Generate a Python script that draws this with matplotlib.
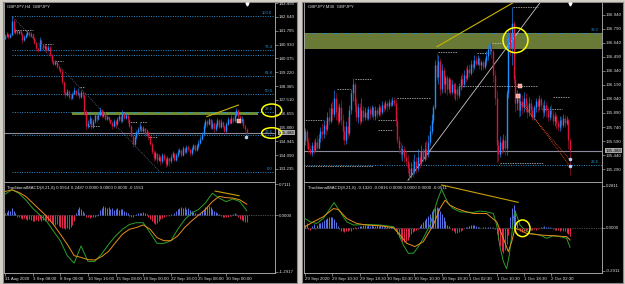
import numpy as np
import matplotlib.pyplot as plt
from matplotlib.patches import Ellipse, Rectangle

plt.rcParams['font.family'] = ['Liberation Sans', 'DejaVu Sans']

W, H = 625, 284

# ---------------- left window: GBPJPY H4 ----------------
h4_open0 = 141.30
h4_close = [
    141.45, 141.60, 141.38, 141.55, 142.40, 141.70,
    141.80, 141.65, 141.75, 141.60, 141.20, 141.40, 141.55, 141.70, 141.50, 141.60,
    141.35, 141.05, 140.70, 140.60, 141.20, 140.95,
    140.70, 140.85, 140.60, 140.80,
    140.30, 139.90, 139.75,
    139.85, 139.55, 139.40, 139.30,
    138.60, 138.00,
    137.80, 138.05, 137.70, 137.60, 137.90, 138.10, 137.85,
    137.95, 137.70, 138.00, 137.80,
    136.80, 135.90,
    136.10, 136.40, 135.85, 136.20, 136.55, 136.30, 136.60,
    136.90, 136.50, 136.70, 136.35, 136.45, 136.25,
    136.10, 135.90, 136.20, 136.00, 136.30,
    136.50, 136.20, 136.65, 136.40, 136.55, 136.30,
    135.90, 135.30, 134.80, 135.20,
    135.50, 135.70, 135.90, 135.60, 135.75, 135.40, 135.55, 135.30,
    134.80, 134.30, 133.90, 134.20, 133.80, 134.00,
    133.70, 134.10, 133.85, 133.55, 133.90, 133.70, 134.00, 134.20, 133.80, 134.10, 134.30,
    134.40, 134.10, 134.55, 134.30, 134.60, 134.45, 134.20, 134.50, 134.70, 134.40, 134.65, 134.85,
    135.10, 135.40, 135.90, 136.20, 136.00,
    136.30, 135.80, 136.10, 135.70, 135.95, 136.25, 135.85, 136.15, 135.90, 135.60, 136.00, 136.30, 136.10, 136.40, 136.20,
    136.60, 136.90, 136.50,
    136.20, 136.35, 135.90, 135.70, 135.49,
]
h4_high = [
    141.60, 141.72, 141.65, 141.62, 142.69, 142.50,
    141.95, 141.88, 141.85, 141.80, 141.65, 141.50, 141.62, 141.82, 141.75, 141.70,
    141.65, 141.40, 141.10, 140.80, 141.40, 141.25,
    141.00, 140.95, 140.90, 140.90,
    140.85, 140.35, 140.00,
    139.97, 139.90, 139.62, 139.50,
    139.35, 138.70,
    138.15, 138.20, 138.10, 137.85, 138.00, 138.30, 138.15,
    138.25, 138.00, 138.10, 138.05,
    137.85, 136.90,
    136.25, 136.55, 136.45, 136.35, 136.70, 136.60, 136.75,
    137.05, 136.95, 136.85, 136.75, 136.60, 136.50,
    136.35, 136.15, 136.30, 136.25, 136.45,
    136.65, 136.55, 136.90, 136.70, 136.70, 136.60,
    136.35, 135.95, 135.40, 135.35,
    135.65, 135.85, 136.05, 135.95, 135.90, 135.80, 135.70, 135.60,
    135.35, 134.90, 134.40, 134.35, 134.25, 134.15,
    134.10, 134.25, 134.20, 133.95, 134.05, 134.00, 134.15, 134.35, 134.25, 134.25, 134.45,
    134.55, 134.45, 134.65, 134.60, 134.72, 134.70, 134.50, 134.60, 134.80, 134.75, 134.75, 135.00,
    135.25, 135.55, 136.05, 136.35, 136.30,
    136.39, 136.35, 136.25, 136.15, 136.10, 136.40, 136.30, 136.30, 136.20, 135.95, 136.15, 136.45, 136.40, 136.55, 136.50,
    136.75, 137.00, 136.95,
    136.60, 136.50, 136.40, 136.00, 135.80,
]
h4_low = [
    141.25, 141.40, 141.30, 141.32, 141.50, 141.62,
    141.60, 141.55, 141.58, 141.50, 141.02, 141.12, 141.35, 141.48, 141.42, 141.40,
    141.25, 140.95, 140.55, 140.47, 140.55, 140.85,
    140.60, 140.62, 140.50, 140.52,
    140.20, 139.80, 139.65,
    139.68, 139.45, 139.30, 139.20,
    138.50, 137.90,
    137.65, 137.72, 137.55, 137.50, 137.55, 137.85, 137.75,
    137.80, 137.55, 137.62, 137.60,
    136.60, 135.65,
    135.75, 136.00, 135.70, 135.75, 136.10, 136.15, 136.25,
    136.50, 136.40, 136.45, 136.25, 136.25, 136.14,
    136.00, 135.70, 135.85, 135.80, 135.95,
    136.20, 136.10, 136.15, 136.30, 136.35, 136.15,
    135.80, 135.20, 134.60, 134.70,
    135.10, 135.40, 135.60, 135.50, 135.50, 135.25, 135.30, 135.00,
    134.70, 134.15, 133.75, 133.80, 133.60, 133.70,
    133.50, 133.60, 133.70, 133.35, 133.45, 133.40, 133.60, 133.90, 133.70, 133.70, 134.00,
    134.20, 134.00, 134.05, 134.15, 134.25, 134.35, 134.05, 134.10, 134.40, 134.30, 134.35, 134.55,
    134.75, 135.00, 135.30, 135.80, 135.85,
    135.95, 135.70, 135.70, 135.55, 135.60, 135.85, 135.75, 135.80, 135.75, 135.40, 135.50, 135.95, 136.00, 136.05, 136.10,
    136.15, 136.50, 136.40,
    136.05, 136.10, 135.80, 135.55, 135.30,
]
h4_price_ticks = [143.495, 142.640, 141.785, 140.930, 140.075, 139.220, 138.365,
                  137.510, 136.655, 135.800, 134.945, 134.090, 133.235]
h4_time_pos = [0, 16, 32, 48, 64, 80, 96, 112, 128]
h4_time_labels = ['31 Aug 2020', '3 Sep 08:00', '8 Sep 00:00', '10 Sep 16:00', '15 Sep 08:00',
                  '18 Sep 00:00', '22 Sep 16:00', '25 Sep 08:00', '30 Sep 00:00']

# fibonacci levels (shared object) and the supply zone
fib_prices = [142.69, 140.59, 140.28, 138.98, 137.87, 136.75, 135.33, 133.05]
fib_labels = ['100.0', '76.4', '', '61.8', '50.0', '38.2', '23.6', '0.0']
h4_fib_start = 4
zone_lo, zone_hi = 136.58, 136.75
h4_zone_start, h4_zone_end = 38.8, 146.5

# short pivot levels on the H4 chart
h4_lvl_start = [5.8, 23.1, 28.9, 43.4, 48.0, 71.1, 78.0, 82.7]
h4_lvl_end = [16.2, 27.7, 33.5, 46.2, 54.9, 76.3, 82.1, 87.9]
h4_lvl_price = [141.83, 140.96, 139.91, 138.30, 135.89, 136.14, 136.14, 135.21]

h4_hist = [
    0.05, 0.08, 0.12, 0.10, 0.16, 0.09, 0.04,
    -0.03, -0.05, -0.06, -0.08, -0.07, -0.09, -0.10, -0.08, -0.11,
    -0.12, -0.13, -0.10, -0.12, -0.09, -0.13, -0.11, -0.13, -0.10, -0.12,
    -0.14, -0.17, -0.20, -0.22, -0.19, -0.24, -0.26, -0.28, -0.30, -0.32, -0.30, -0.32, -0.27, -0.22, -0.12,
    0.06, 0.14, 0.19, 0.15, 0.10, 0.04,
    -0.03, -0.05, -0.06, -0.04, -0.05, -0.03, -0.02, 0.02,
    0.12, 0.17, 0.20, 0.18, 0.16, 0.19, 0.15, 0.17, 0.13, 0.15, 0.16, 0.12, 0.14, 0.15, 0.10, 0.08, 0.05,
    -0.02, -0.04, -0.03, 0.01,
    0.03, 0.05, 0.06, 0.04, 0.07, 0.05, 0.02, -0.03,
    -0.08, -0.14, -0.18, -0.21, -0.17, -0.13, -0.09, -0.06, -0.03,
    -0.01, 0.01, -0.01, 0.02, 0.01,
    0.06, 0.10, 0.14, 0.17, 0.19, 0.16, 0.18, 0.15, 0.17, 0.13, 0.10, 0.08, 0.05, 0.03, 0.02,
    0.06, 0.10, 0.14, 0.18, 0.21, 0.22, 0.19, 0.15, 0.10, 0.07, 0.04, 0.02,
    -0.02, -0.04, -0.03, -0.05, -0.04, -0.02, -0.01,
    0.03, 0.04, 0.02,
    -0.05, -0.08, -0.10, -0.12, -0.15, -0.16,
]
h4_macd_idx = list(range(0, 141, 4))
h4_macd_main = [0.48, 0.58, 0.50, 0.35, 0.16, 0.01, -0.13, -0.36, -0.58, -0.92,
                -1.09, -0.70, -1.05, -1.05, -0.88, -0.66, -0.47, -0.32, -0.21, -0.17,
                -0.17, -0.40, -0.64, -0.64, -0.58, -0.32, -0.10, 0.05, 0.13, 0.28,
                0.50, 0.39, 0.31, 0.37, 0.31, 0.10]
h4_macd_signal = [0.54, 0.58, 0.52, 0.43, 0.28, 0.13, -0.02, -0.21, -0.43, -0.66,
                  -0.92, -0.96, -1.01, -1.02, -0.94, -0.82, -0.62, -0.43, -0.32, -0.28,
                  -0.22, -0.32, -0.51, -0.58, -0.58, -0.47, -0.28, -0.13, 0.00, 0.13,
                  0.31, 0.43, 0.40, 0.39, 0.35, 0.25]
h4_macd_ticks = [0.7111, 0.0, -1.2917]

# ---------------- right window: GBPJPY M30 ----------------
m30_open0 = 135.60
m30_close = [
    135.70, 135.58, 135.50, 135.46, 135.55, 135.49, 135.58, 135.52, 135.62, 135.70,
    135.66, 135.76, 135.72, 135.85, 135.80, 135.94, 135.88, 136.05, 135.90, 135.80,
    135.95, 135.82, 135.70, 135.60, 135.75, 135.68, 135.92, 136.10, 136.20, 135.98,
    135.85, 135.95, 135.80, 135.92, 135.85, 135.90, 135.84, 135.93, 135.88, 135.95,
    135.86, 135.92, 135.88, 135.95, 135.90, 135.98, 135.94, 136.00, 135.96, 136.01,
    135.98, 136.03, 136.00, 135.80, 135.60, 135.52, 135.45, 135.50, 135.42, 135.38,
    135.30, 135.22, 135.30, 135.26, 135.38, 135.30, 135.42, 135.35, 135.48, 135.40,
    135.50, 135.45, 135.58, 135.70, 135.82, 135.95, 136.40, 136.28, 136.45, 136.15,
    136.35, 136.20, 136.28, 136.15, 136.25, 136.12, 136.20, 136.10, 136.15, 136.08,
    136.18, 136.25, 136.20, 136.30, 136.26, 136.36, 136.32, 136.42, 136.38, 136.46,
    136.42, 136.48, 136.40, 136.44, 136.38, 136.45,
    136.50, 136.58, 136.62, 136.55, 136.30, 136.05, 135.55, 135.45, 135.58, 135.50,
    135.60, 135.52, 136.10, 136.70, 136.60, 136.85, 136.25, 136.00, 136.08, 135.92,
    136.02, 135.95, 136.05, 135.98, 135.90, 136.00, 135.92, 135.85, 135.95, 136.02,
    135.96, 136.04, 135.98, 135.90, 135.98, 135.92, 135.85, 135.92, 135.88, 135.80,
    135.86, 135.78, 135.74, 135.82, 135.76, 135.84, 135.78, 135.82, 135.60, 135.49,
]
m30_high = [
    135.73, 135.72, 135.62, 135.55, 135.58, 135.60, 135.62, 135.65, 135.66, 135.74,
    135.78, 135.81, 135.80, 135.90, 135.95, 136.00, 136.02, 136.14, 136.10, 135.98,
    136.00, 136.03, 135.88, 135.75, 135.80, 135.85, 135.98, 136.15, 136.26, 136.22,
    136.05, 136.00, 136.00, 136.05, 135.96, 135.95, 135.94, 135.97, 135.96, 135.98,
    135.97, 135.96, 135.95, 135.99, 135.98, 136.02, 136.01, 136.03, 136.02, 136.04,
    136.04, 136.06, 136.06, 136.04, 135.84, 135.64, 135.58, 135.55, 135.54, 135.48,
    135.44, 135.35, 135.36, 135.40, 135.45, 135.42, 135.50, 135.48, 135.55, 135.52,
    135.58, 135.60, 135.65, 135.76, 135.88, 135.98, 136.46, 136.53, 136.51, 136.48,
    136.42, 136.38, 136.30, 136.30, 136.28, 136.27, 136.24, 136.22, 136.21, 136.18,
    136.21, 136.30, 136.32, 136.35, 136.38, 136.40, 136.42, 136.46, 136.46, 136.51,
    136.50, 136.51, 136.49, 136.46, 136.46, 136.48,
    136.55, 136.62, 136.64, 136.64, 136.58, 136.35, 136.14, 135.60, 135.64, 135.62,
    135.66, 135.65, 136.14, 136.78, 136.80, 137.02, 136.88, 136.30, 136.14, 136.12,
    136.10, 136.08, 136.12, 136.10, 136.02, 136.06, 136.04, 135.96, 135.98, 136.05,
    136.05, 136.08, 136.06, 136.01, 136.03, 136.01, 135.95, 135.96, 135.99, 135.92,
    135.90, 135.88, 135.82, 135.86, 135.86, 135.88, 135.87, 135.86, 135.84, 135.62,
]
m30_low = [
    135.55, 135.52, 135.46, 135.44, 135.43, 135.45, 135.47, 135.49, 135.50, 135.58,
    135.60, 135.62, 135.65, 135.70, 135.76, 135.78, 135.82, 135.85, 135.82, 135.76,
    135.78, 135.76, 135.60, 135.55, 135.56, 135.62, 135.65, 135.88, 136.02, 135.90,
    135.80, 135.78, 135.76, 135.78, 135.80, 135.82, 135.81, 135.82, 135.83, 135.85,
    135.81, 135.82, 135.84, 135.86, 135.86, 135.88, 135.90, 135.92, 135.91, 135.93,
    135.95, 135.96, 135.97, 135.75, 135.57, 135.46, 135.40, 135.38, 135.36, 135.33,
    135.25, 135.17, 135.19, 135.20, 135.24, 135.25, 135.27, 135.30, 135.33, 135.36,
    135.38, 135.40, 135.42, 135.55, 135.66, 135.78, 135.93, 136.24, 136.20, 136.08,
    136.10, 136.12, 136.10, 136.08, 136.10, 136.08, 136.09, 136.05, 136.03, 136.03,
    136.05, 136.14, 136.16, 136.17, 136.22, 136.24, 136.28, 136.30, 136.33, 136.36,
    136.40, 136.40, 136.36, 136.35, 136.35, 136.36,
    136.40, 136.46, 136.52, 136.48, 136.22, 135.98, 135.37, 135.37, 135.42, 135.45,
    135.47, 135.44, 135.44, 136.05, 136.50, 136.40, 136.20, 135.90, 135.92, 135.85,
    135.86, 135.88, 135.90, 135.90, 135.84, 135.86, 135.85, 135.81, 135.82, 135.90,
    135.90, 135.92, 135.93, 135.84, 135.86, 135.85, 135.80, 135.82, 135.84, 135.76,
    135.75, 135.72, 135.70, 135.70, 135.72, 135.74, 135.74, 135.76, 135.50, 135.23,
]
m30_price_ticks = [136.940, 136.790, 136.640, 136.490, 136.340, 136.190,
                   136.040, 135.890, 135.740, 135.590, 135.440, 135.290]
m30_time_pos = [0, 16, 32, 48, 64, 80, 96, 112, 128, 144]
m30_time_labels = ['29 Sep 2020', '29 Sep 10:30', '29 Sep 18:30', '30 Sep 02:30', '30 Sep 10:30',
                   '30 Sep 18:30', '1 Oct 02:30', '1 Oct 10:30', '1 Oct 18:30', '2 Oct 02:30']

m30_lvl_start = [18.7, 29.2, 53.8, 77.8, 90.6, 100.6, 109.4, 121.6, 145.0, 138.6, -1.0, 42.7, 42.7, -1.0, 114.0]
m30_lvl_end = [26.3, 39.2, 73.1, 88.9, 136.3, 106.4, 115.8, 136.3, 155.0, 150.3, 10.5, 53.8, 51.5, 39.8, 139.2]
m30_lvl_price = [136.147, 136.254, 136.050, 136.543, 136.179, 136.532, 136.639, 137.025,
                 136.061, 135.933, 135.815, 135.815, 135.708, 135.322, 135.354]

m30_hist = [
    0.02, 0.03, -0.01, -0.015, 0.01, 0.025, -0.01, 0.02, 0.03,
    0.03, 0.04, 0.05, 0.06, 0.065, 0.07, 0.074, 0.07, 0.06, 0.04,
    0.01, -0.01, -0.02, -0.025, -0.027, -0.02, -0.025, -0.015, -0.02, -0.01, 0.005, -0.01, 0.008, 0.01, 0.012,
    0.015, 0.018, 0.012, 0.016, 0.01, 0.018, 0.014, 0.012, 0.016, 0.01, 0.015, 0.012, 0.008, 0.01, 0.012,
    0.006, 0.008, 0.004, 0.002,
    -0.02, -0.04, -0.06, -0.075, -0.09, -0.094, -0.09, -0.08, -0.06, -0.045,
    -0.03, -0.02, -0.015, -0.008,
    0.01, 0.025, 0.04, 0.05, 0.065, 0.08, 0.095, 0.11, 0.125, 0.135, 0.14, 0.13, 0.115, 0.09, 0.07, 0.045,
    0.02, 0.01, -0.005,
    -0.015, -0.025, -0.035, -0.038, -0.032, -0.025, -0.015,
    -0.005, 0.005, 0.008, 0.012, 0.015, 0.018, 0.016, 0.01, 0.006, 0.004, -0.004, 0.006, 0.004, -0.005,
    0.003, 0.005, -0.004, 0.002, -0.01,
    -0.04, -0.08, -0.12, -0.16, -0.17, -0.15, -0.11, -0.05,
    0.07, 0.13, 0.156, 0.12,
    0.03, -0.01, -0.02, -0.027, -0.02, -0.025, -0.015, -0.02, -0.012, -0.018, -0.01, -0.015, -0.008, -0.005,
    0.004, 0.006, 0.01, 0.008, 0.006, 0.004, -0.005, -0.01, -0.015, -0.012, -0.018, -0.02, -0.015, -0.02, -0.025,
    -0.035, -0.045, -0.054,
]
m30_main_idx = [0, 2.9, 6.8, 10.7, 14.6, 17, 20.5, 24.4, 28.3, 36, 43.9, 51.7, 54.6, 57.5, 60.4, 63.4,
                66.3, 69.2, 73.1, 76, 77.4, 79.9, 81.9, 83.8, 86.7, 90.6, 98.4, 102.3, 106.2, 110.1,
                112.1, 114, 116, 117.9, 119.5, 120.9, 121.8, 122.8, 123.8, 125.7, 128.7, 131.6,
                137.4, 141.3, 145.2, 149.1, 153, 155]
m30_main = [0.062, 0.040, 0.029, 0.062, 0.129, 0.169, 0.107, 0.040, 0.018, 0.022, 0.018, 0.007,
            -0.038, -0.116, -0.172, -0.172, -0.127, -0.071, 0.018, 0.129, 0.185, 0.259, 0.207, 0.163,
            0.129, 0.107, 0.103, 0.112, 0.107, 0.096, 0.018, -0.127, -0.227, -0.277, -0.183, -0.049,
            0.062, 0.107, 0.085, 0.018, -0.016, -0.038, -0.049, -0.071, -0.054, -0.060, -0.071, -0.132]
m30_sig_idx = [0, 4.9, 10.7, 16.6, 19.5, 24.4, 30.2, 36, 43.9, 51.7, 55.6, 59.5, 64.3, 69.2, 75,
               78.9, 81.9, 84.8, 88.7, 94.5, 98.4, 106.2, 112.1, 116, 118.9, 120.9, 122.8, 125.7,
               129.6, 137.4, 145.2, 153, 155]
m30_signal = [0.007, 0.040, 0.074, 0.129, 0.123, 0.062, 0.029, 0.018, 0.013, 0.0, -0.049, -0.105,
              -0.127, -0.094, 0.018, 0.129, 0.185, 0.152, 0.129, 0.107, 0.096, 0.096, 0.040, -0.071,
              -0.161, -0.094, -0.004, -0.016, -0.038, -0.049, -0.054, -0.060, -0.083]
m30_macd_ticks = [0.2811, 0.0, -0.2911]

last_price = 135.488

BULL, BEAR = '#1e90ff', '#dc143c'
BULL_W, BEAR_W = '#1c7ee0', '#a0102e'
FIB = '#2a93d5'
TXT = '#dcdcdc'
FS = 3.2


def px_rect(x0, y0, x1, y1):
    return [x0 / W, 1 - y1 / H, (x1 - x0) / W, (y1 - y0) / H]


def style(ax, top=False):
    ax.set_facecolor('black')
    for s in ax.spines.values():
        s.set_color('#b8b8b8')
        s.set_linewidth(0.6)
    ax.spines['top'].set_visible(top)
    ax.yaxis.tick_right()
    ax.tick_params(axis='y', colors='#c8c8c8', labelcolor=TXT, labelsize=FS,
                   length=1.8, width=0.4, pad=1)
    ax.tick_params(axis='x', colors='#c8c8c8', labelcolor=TXT, labelsize=FS,
                   length=1.8, width=0.4, pad=0.8)


def draw_candles(ax, open0, closes, highs, lows):
    c = np.array(closes)
    o = np.r_[open0, c[:-1]]
    hi = np.array(highs)
    lo = np.array(lows)
    x = np.arange(len(c))
    up = c >= o
    for m, col, wcol in [(up, BULL, BULL_W), (~up, BEAR, BEAR_W)]:
        ax.vlines(x[m], lo[m], hi[m], color=wcol, lw=0.5, zorder=3)
        ax.vlines(x[m], o[m], c[m], color=col, lw=1.0, zorder=3)


def draw_macd(ax, hist, main_idx, main, sig_idx, sig):
    h = np.array(hist)
    x = np.arange(len(h))
    ax.axhline(0, color='#8a8a8a', lw=0.5, ls=(0, (1, 1.5)), zorder=1)
    ax.vlines(x[h >= 0], 0, h[h >= 0], color='#5a73e8', lw=0.7, zorder=2)
    ax.vlines(x[h < 0], 0, h[h < 0], color='#e8284e', lw=0.7, zorder=2)
    ax.plot(main_idx, main, color='#2aa02a', lw=0.7, zorder=3)
    ax.plot(sig_idx, sig, color='#e8901a', lw=0.7, zorder=3)


def price_box(ax, price):
    ax.text(1.012, price, f'{price:.3f}', transform=ax.get_yaxis_transform(),
            fontsize=FS, color='black', va='center', ha='left', clip_on=False, zorder=8,
            bbox=dict(facecolor='#a8a8a8', edgecolor='none', pad=0.4))


fig = plt.figure(figsize=(W / 100, H / 100), dpi=100, facecolor='#d4d0c8')

# window backgrounds
for x0, x1 in [(3, 297), (302, 623)]:
    bg = fig.add_axes(px_rect(x0, 2, x1, 283))
    bg.set_facecolor('black')
    bg.set_xticks([])
    bg.set_yticks([])
    for s in bg.spines.values():
        s.set_color('#8a8a8a')
        s.set_linewidth(0.8)

# ---- left main chart ----
ax1 = fig.add_axes(px_rect(4, 3, 275, 182))
style(ax1)
ax1.set_xlim(-0.6, 156.3)
ax1.set_ylim(132.43, 143.50)
ax1.set_xticks([])
ax1.set_yticks(h4_price_ticks)
ax1.set_yticklabels([f'{t:.3f}' for t in h4_price_ticks])

ax1.add_patch(Rectangle((h4_zone_start, zone_lo), h4_zone_end - h4_zone_start, zone_hi - zone_lo,
                        facecolor='#6e8a32', edgecolor='none', zorder=1))
for p, lab in zip(fib_prices, fib_labels):
    ax1.plot([h4_fib_start, 156.3], [p, p], color=FIB, lw=0.7, ls=(0, (1, 1.5)), zorder=2)
    if lab:
        ax1.text(0.99, p + 0.05, lab, transform=ax1.get_yaxis_transform(), color=FIB,
                 fontsize=FS - 0.2, ha='right', va='bottom', zorder=4)
ax1.plot([4, 89.7], [142.69, 133.05], color='#6a6a9a', lw=0.6, ls=(0, (1, 1.5)), zorder=2)
for s, e, p in zip(h4_lvl_start, h4_lvl_end, h4_lvl_price):
    ax1.plot([s, e], [p, p], color='#d0d0d0', lw=0.5, ls=(0, (2, 1.5)), zorder=2)
ax1.axhline(last_price, color='#8a8a9e', lw=0.8, zorder=2)
draw_candles(ax1, h4_open0, h4_close, h4_high, h4_low)
ax1.plot([116.8, 135.1], [136.47, 137.19], color='#c8b400', lw=0.8, zorder=5)
ax1.plot([135.3], [136.20], marker='s', ms=2.2, color='#ff9a8a', mec='white', mew=0.3, zorder=6)
ax1.plot([139.3], [135.21], marker='o', ms=2.2, color='#9ec8ff', mec='white', mew=0.3, zorder=6)
for cx, cy, ew, eh in [(154.4, 136.86, 11.6, 0.785), (154.4, 135.46, 11.6, 0.655)]:
    ax1.add_patch(Ellipse((cx, cy), ew, eh, fill=False, edgecolor='#ffff00', lw=1.1,
                          clip_on=False, zorder=9))
ax1.plot([140], [143.42], marker='v', ms=2.2, color='white', clip_on=False, zorder=6)
price_box(ax1, last_price)

# ---- left MACD ----
ax2 = fig.add_axes(px_rect(4, 183, 275, 273))
style(ax2)
ax2.set_xlim(-0.6, 156.3)
ax2.set_ylim(-1.315, 0.734)
draw_macd(ax2, h4_hist, h4_macd_idx, h4_macd_main, h4_macd_idx, h4_macd_signal)
ax2.plot([121.6, 135.5], [0.551, 0.444], color='#c8a000', lw=0.8, zorder=4)
ax2.set_yticks(h4_macd_ticks)
ax2.set_yticklabels([f'{t:.4f}' for t in h4_macd_ticks])
ax2.set_xticks(h4_time_pos)
ax2.set_xticklabels(h4_time_labels, ha='left')

# ---- right main chart ----
ax3 = fig.add_axes(px_rect(304, 3, 602, 182))
style(ax3)
ax3.set_xlim(-0.6, 173.7)
ax3.set_ylim(135.151, 137.068)
ax3.set_xticks([])
ax3.set_yticks(m30_price_ticks)
ax3.set_yticklabels([f'{t:.3f}' for t in m30_price_ticks])
ax3.axhspan(zone_lo, zone_hi, facecolor='#687a36', edgecolor='none', zorder=1)
for p, lab in zip(fib_prices, fib_labels):
    if 135.151 < p < 137.068:
        ax3.axhline(p, color=FIB, lw=0.7, ls=(0, (1, 1.5)), zorder=2)
        ax3.text(0.99, p + 0.01, lab, transform=ax3.get_yaxis_transform(), color=FIB,
                 fontsize=FS - 0.2, ha='right', va='bottom', zorder=4)
for s, e, p in zip(m30_lvl_start, m30_lvl_end, m30_lvl_price):
    ax3.plot([s, e], [p, p], color='#d0d0d0', lw=0.5, ls=(0, (2, 1.5)), zorder=2)
ax3.axhline(last_price, color='#8a8a9e', lw=0.8, zorder=2)
ax3.plot([60.2, 137.4], [135.17, 137.07], color='#c8c8c8', lw=0.6, zorder=2)
draw_candles(ax3, m30_open0, m30_close, m30_high, m30_low)
ax3.plot([77.2, 121.6], [136.60, 137.07], color='#c8b400', lw=0.8, zorder=5)
ax3.plot([124.6, 154.4], [136.03, 135.40], color='#ff5020', lw=0.6, ls=(0, (1, 1.2)), zorder=4)
ax3.plot([127.5, 155.0], [136.00, 135.32], color='#ff5020', lw=0.6, ls=(0, (1, 1.2)), zorder=4)
ax3.plot([124.6, 125.5], [136.07, 136.18], ls='none', marker='s', ms=2.2, color='#ff9a8a',
         mec='white', mew=0.3, zorder=6)
ax3.plot([155, 155], [135.397, 135.322], ls='none', marker='o', ms=2.2, color='#9ec8ff',
         mec='white', mew=0.3, zorder=6)
ax3.add_patch(Ellipse((123.1, 136.67), 14.6, 0.268, fill=False, edgecolor='#ffff00', lw=1.1,
                      zorder=9))
ax3.plot([155], [137.055], marker='v', ms=2.2, color='white', clip_on=False, zorder=6)
price_box(ax3, last_price)

# ---- right MACD ----
ax4 = fig.add_axes(px_rect(304, 183, 602, 273))
style(ax4)
ax4.set_xlim(-0.6, 173.7)
ax4.set_ylim(-0.305, 0.3013)
draw_macd(ax4, m30_hist, m30_main_idx, m30_main, m30_sig_idx, m30_signal)
ax4.plot([79.9, 124.7], [0.288, 0.171], color='#c8a000', lw=0.8, zorder=4)
ax4.add_patch(Ellipse((127.2, -0.004), 8.8, 0.1125, fill=False, edgecolor='#ffff00', lw=1.1,
                      zorder=9))
ax4.set_yticks(m30_macd_ticks)
ax4.set_yticklabels([f'{t:.4f}' for t in m30_macd_ticks])
ax4.set_xticks(m30_time_pos)
ax4.set_xticklabels(m30_time_labels, ha='left')

# captions
fig.text(7 / W, 1 - 7 / H, 'GBPJPY,H4  GBPJPY', color=TXT, fontsize=FS, va='center')
fig.text(308 / W, 1 - 7 / H, 'GBPJPY,M30  GBPJPY', color=TXT, fontsize=FS, va='center')
fig.text(7 / W, 1 - 188 / H, 'TraditionalMACD(8,21,8) 0.0914 0.2487 0.0000 0.0000 0.0000 -0.1553',
         color=TXT, fontsize=FS, va='center')
fig.text(308 / W, 1 - 188 / H, 'TraditionalMACD(8,21,8) -0.1320 -0.0816 0.0000 0.0000 0.0000 -0.0511',
         color=TXT, fontsize=FS, va='center')

fig.savefig('out.png', dpi=100, facecolor=fig.get_facecolor())
